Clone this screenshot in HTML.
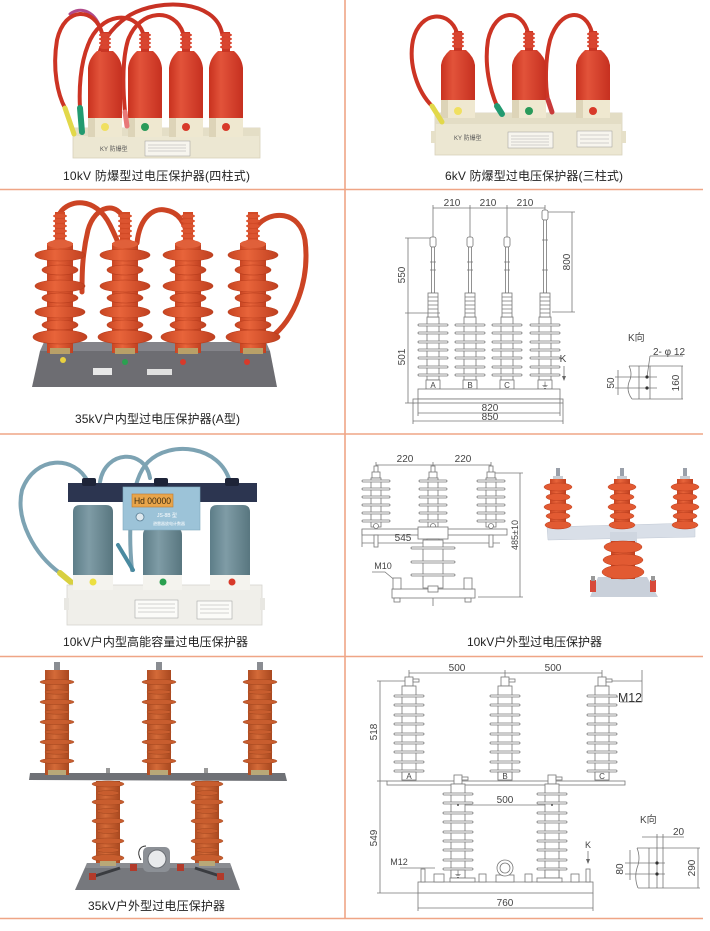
<!DOCTYPE html>
<html><head><meta charset="utf-8">
<style>
html,body{margin:0;padding:0;background:#fff;width:710px;height:931px;overflow:hidden}
svg{display:block}
text{font-family:"Liberation Sans","Noto Sans CJK SC",sans-serif}
.cap{font-size:12px;fill:#222}
.dm{font-size:10px;fill:#444}
.ln{stroke:#777;stroke-width:0.8;fill:none}
.lw{stroke:#777;stroke-width:0.8;fill:#fff}
</style></head><body>
<svg width="710" height="931" viewBox="0 0 710 931" xmlns="http://www.w3.org/2000/svg">
<defs>
<linearGradient id="gbl" x1="0" x2="1" y1="0" y2="0">
<stop offset="0" stop-color="#5d7d88"/><stop offset="0.4" stop-color="#7f9ca6"/><stop offset="1" stop-color="#58767f"/>
</linearGradient>
<linearGradient id="gred" x1="0" x2="1" y1="0" y2="0">
<stop offset="0" stop-color="#c9321f"/><stop offset="0.35" stop-color="#e2533a"/><stop offset="1" stop-color="#c63020"/>
</linearGradient>
<linearGradient id="gor" x1="0" x2="1" y1="0" y2="0">
<stop offset="0" stop-color="#c84522"/><stop offset="0.4" stop-color="#e8643a"/><stop offset="1" stop-color="#c04020"/>
</linearGradient>
<linearGradient id="gbr" x1="0" x2="1" y1="0" y2="0">
<stop offset="0" stop-color="#b14e24"/><stop offset="0.4" stop-color="#d46a38"/><stop offset="1" stop-color="#a9481f"/>
</linearGradient>

<!-- cell1 column -->
<g id="c1">
<rect x="-17" y="114" width="34" height="23" fill="#efe8d0"/>
<rect x="-17" y="114" width="7" height="23" fill="#ddd4b8"/>
<path d="M-17,118 L-17,68 Q-16,58 -8,51 L8,51 Q16,58 17,68 L17,118 Z" fill="url(#gred)"/>
<rect x="-4" y="32" width="8" height="20" fill="#c93624"/>
<g fill="#d94530"><ellipse cx="0" cy="35" rx="6" ry="2"/><ellipse cx="0" cy="39" rx="6" ry="2"/><ellipse cx="0" cy="43" rx="6" ry="2"/><ellipse cx="0" cy="47" rx="6" ry="2"/></g>
</g>
<!-- cell2 column -->
<g id="c2">
<rect x="-17" y="97" width="34" height="21" fill="#efe8d0"/>
<rect x="-17" y="97" width="7" height="21" fill="#ddd4b8"/>
<path d="M-17,100 L-17,65 Q-16,57 -8,50 L8,50 Q16,57 17,65 L17,100 Z" fill="url(#gred)"/>
<rect x="-4" y="31" width="8" height="20" fill="#c93624"/>
<g fill="#d94530"><ellipse cx="0" cy="34" rx="6" ry="2"/><ellipse cx="0" cy="38" rx="6" ry="2"/><ellipse cx="0" cy="42" rx="6" ry="2"/><ellipse cx="0" cy="46" rx="6" ry="2"/></g>
</g>
<!-- cell3 stack -->
<g id="c3">
<rect x="-5" y="212" width="10" height="33" fill="#d24a26"/>
<g fill="#dc5430"><ellipse cx="0" cy="216" rx="7" ry="2"/><ellipse cx="0" cy="221" rx="7" ry="2"/><ellipse cx="0" cy="226" rx="7" ry="2"/><ellipse cx="0" cy="231" rx="7" ry="2"/><ellipse cx="0" cy="236" rx="7" ry="2"/><ellipse cx="0" cy="241" rx="7" ry="2"/></g>
<rect x="-13" y="243" width="26" height="110" fill="url(#gor)"/>
<rect x="-10" y="348" width="20" height="6" fill="#b8a068"/>
<g fill="url(#gor)" stroke="#b73c1c" stroke-width="0.6">
<ellipse cx="0" cy="255" rx="25" ry="6"/><ellipse cx="0" cy="270" rx="18" ry="5"/>
<ellipse cx="0" cy="286" rx="25" ry="6"/><ellipse cx="0" cy="298" rx="18" ry="5"/>
<ellipse cx="0" cy="312" rx="25" ry="6"/><ellipse cx="0" cy="325" rx="18" ry="5"/>
<ellipse cx="0" cy="337" rx="27" ry="7"/>
</g>
<ellipse cx="0" cy="244" rx="13" ry="4" fill="#e0603a"/>
</g>
<!-- cell7 upper stack -->
<g id="c7u">
<rect x="-3" y="662" width="6" height="9" fill="#8a8d92"/>
<rect x="-12" y="670" width="24" height="105" fill="url(#gbr)"/>
<rect x="-9" y="770" width="18" height="5" fill="#b8a878"/>
<g fill="#c85d2e" stroke="#a0461e" stroke-width="0.5">
<ellipse cx="0" cy="682" rx="17" ry="2.6"/><ellipse cx="0" cy="692" rx="12" ry="2.2"/>
<ellipse cx="0" cy="702" rx="17" ry="2.6"/><ellipse cx="0" cy="712" rx="12" ry="2.2"/>
<ellipse cx="0" cy="722" rx="17" ry="2.6"/><ellipse cx="0" cy="732" rx="12" ry="2.2"/>
<ellipse cx="0" cy="742" rx="17" ry="2.6"/><ellipse cx="0" cy="752" rx="12" ry="2.2"/>
<ellipse cx="0" cy="761" rx="17" ry="2.6"/>
</g>
</g>
<!-- cell7 lower stack -->
<g id="c7l">
<rect x="-12" y="781" width="24" height="82" fill="url(#gbr)"/>
<g fill="#c85d2e" stroke="#a0461e" stroke-width="0.5">
<ellipse cx="0" cy="784" rx="16" ry="3"/><ellipse cx="0" cy="793" rx="11" ry="2.5"/>
<ellipse cx="0" cy="802" rx="16" ry="3"/><ellipse cx="0" cy="811" rx="11" ry="2.5"/>
<ellipse cx="0" cy="821" rx="16" ry="3"/><ellipse cx="0" cy="831" rx="11" ry="2.5"/>
<ellipse cx="0" cy="841" rx="16" ry="3"/><ellipse cx="0" cy="850" rx="11" ry="2.5"/>
<ellipse cx="0" cy="858" rx="16" ry="3.5"/>
</g>
<rect x="-8" y="861" width="16" height="5" fill="#b8a878"/>
</g>
<!-- cell4 drawing pole -->
<g id="p4">
<rect x="-6" y="317" width="12" height="63" class="lw"/>
<g class="lw">
<rect x="-15" y="324" width="30" height="2" rx="1"/><rect x="-15" y="332" width="30" height="2" rx="1"/>
<rect x="-15" y="341" width="30" height="2" rx="1"/><rect x="-15" y="349" width="30" height="2" rx="1"/>
<rect x="-15" y="357" width="30" height="2" rx="1"/><rect x="-15" y="366" width="30" height="2" rx="1"/>
<rect x="-15" y="374" width="30" height="2" rx="1"/>
</g>
<rect x="-5" y="293" width="10" height="24" class="lw"/>
<path d="M-5,297h10M-5,301h10M-5,305h10M-5,309h10M-5,313h10" class="ln"/>
<rect x="-7" y="380" width="14" height="9" class="lw"/>
</g>
<!-- cell6 drawing arrester -->
<g id="p6">
<rect x="-2" y="466" width="4" height="7" class="lw"/>
<rect x="-4" y="472" width="8" height="6" class="lw"/>
<rect x="-5" y="478" width="10" height="49" class="lw"/>
<g class="lw">
<rect x="-14" y="480" width="28" height="2" rx="1"/><rect x="-14" y="488" width="28" height="2" rx="1"/>
<rect x="-14" y="496" width="28" height="2" rx="1"/><rect x="-14" y="504" width="28" height="2" rx="1"/>
<rect x="-14" y="512" width="28" height="2" rx="1"/><rect x="-14" y="520" width="28" height="2" rx="1"/>
</g>
<circle cx="0" cy="526" r="2.5" class="lw"/>
<rect x="-2" y="535" width="4" height="12" class="lw"/>
</g>
<!-- cell6 photo arrester -->
<g id="ph6">
<rect x="-2" y="468" width="4" height="9" fill="#9aa0aa"/>
<rect x="-5" y="476" width="10" height="4" fill="#c9ccd2"/>
<rect x="-8" y="479" width="16" height="48" fill="url(#gor)"/>
<g fill="#e25a32" stroke="#b83c1c" stroke-width="0.5">
<ellipse cx="0" cy="487" rx="14" ry="4"/><ellipse cx="0" cy="497" rx="12" ry="3.5"/>
<ellipse cx="0" cy="507" rx="14" ry="4"/><ellipse cx="0" cy="516" rx="12" ry="3.5"/>
<ellipse cx="0" cy="525" rx="13" ry="4"/>
</g>
</g>
<!-- cell8 pole -->
<g id="p8">
<rect x="-4" y="677" width="8" height="9" class="lw"/>
<rect x="4" y="679" width="6" height="3" class="lw"/>
<rect x="-7" y="686" width="14" height="94" class="lw"/>
<g class="lw">
<rect x="-15" y="695" width="30" height="2" rx="1"/><rect x="-15" y="704" width="30" height="2" rx="1"/>
<rect x="-15" y="714" width="30" height="2" rx="1"/><rect x="-15" y="723" width="30" height="2" rx="1"/>
<rect x="-15" y="733" width="30" height="2" rx="1"/><rect x="-15" y="742" width="30" height="2" rx="1"/>
<rect x="-15" y="751" width="30" height="2" rx="1"/><rect x="-15" y="761" width="30" height="2" rx="1"/>
<rect x="-15" y="770" width="30" height="2" rx="1"/>
</g>
<rect x="-7" y="772" width="14" height="8" class="lw"/>
</g>
</defs>

<!-- grid lines -->
<g stroke="#efa586" stroke-width="1.6">
<line x1="345" y1="0" x2="345" y2="919"/>
<line x1="0" y1="189.5" x2="703" y2="189.5"/>
<line x1="0" y1="434" x2="703" y2="434"/>
<line x1="0" y1="656.5" x2="703" y2="656.5"/>
<line x1="0" y1="918.5" x2="703" y2="918.5"/>
</g>

<!-- ===== Cell 1 ===== -->
<g fill="none" stroke-linecap="round">
<path d="M222,33 C215,0 160,-2 130,15 C110,28 100,45 97,62" stroke="#c83224" stroke-width="4"/>
<path d="M102,33 C96,10 80,6 70,14" stroke="#b04a8a" stroke-width="3"/>
<path d="M102,33 C95,8 65,5 57,40 C52,70 58,95 65,108" stroke="#cc3424" stroke-width="4"/>
<path d="M143,33 C135,10 100,12 88,45 C80,65 79,90 80,108" stroke="#cc3424" stroke-width="4"/>
<path d="M183,33 C175,8 140,8 128,40 C122,60 123,90 125,112" stroke="#cc3424" stroke-width="4"/>
</g>
<rect x="73" y="128" width="187" height="30" fill="#ece7d2" stroke="#d8d2bb" stroke-width="0.8"/>
<rect x="73" y="128" width="187" height="8" fill="#e4dec6"/>
<use href="#c1" x="105"/><use href="#c1" x="145"/><use href="#c1" x="186"/><use href="#c1" x="226"/>
<g stroke-linecap="round" fill="none">
<path d="M65,108 L74,134" stroke="#e2d84a" stroke-width="5"/>
<path d="M80,108 L82,132" stroke="#229a70" stroke-width="6"/>
<path d="M125,112 L127,126" stroke="#e87878" stroke-width="5"/>
</g>
<circle cx="105" cy="127" r="4" fill="#f0e060"/><circle cx="145" cy="127" r="4" fill="#2a9a5a"/>
<circle cx="186" cy="127" r="4" fill="#d83a2a"/><circle cx="226" cy="127" r="4" fill="#d83a2a"/>
<text x="100" y="151" font-size="6" fill="#555" font-family="Liberation Serif,serif">KY 防爆型</text>
<rect x="145" y="141" width="45" height="15" fill="#f7f5ee" stroke="#999" stroke-width="0.5"/>
<path d="M148,145h38M148,148h38M148,151h38" stroke="#aaa" stroke-width="0.5"/>
<text x="63" y="180" class="cap" textLength="187" lengthAdjust="spacing">10kV 防爆型过电压保护器(四柱式)</text>

<!-- ===== Cell 2 ===== -->
<g fill="none" stroke-linecap="round">
<path d="M457,33 C450,10 420,10 413,40 C408,65 418,92 432,106" stroke="#cc3424" stroke-width="4"/>
<path d="M528,33 C522,8 495,8 488,40 C484,65 490,90 497,106" stroke="#cc3424" stroke-width="4"/>
<path d="M592,33 C586,8 560,8 550,40 C545,60 545,85 548,100" stroke="#cc3424" stroke-width="4"/>
</g>
<rect x="435" y="113" width="187" height="42" fill="#ece7d2" stroke="#d8d2bb" stroke-width="0.8"/>
<rect x="435" y="113" width="187" height="11" fill="#e3ddc5"/>
<rect x="431" y="131" width="5" height="12" fill="#e6e0c8"/><rect x="621" y="131" width="5" height="12" fill="#e6e0c8"/>
<use href="#c2" x="458"/><use href="#c2" x="529"/><use href="#c2" x="593"/>
<g stroke-linecap="round" fill="none">
<path d="M432,106 L442,122" stroke="#e2d84a" stroke-width="5"/>
<path d="M497,106 L502,114" stroke="#229a70" stroke-width="6"/>
<path d="M548,100 L552,112" stroke="#c83a3a" stroke-width="5"/>
</g>
<circle cx="458" cy="111" r="4" fill="#f0e060"/><circle cx="529" cy="111" r="4" fill="#2a9a5a"/><circle cx="593" cy="111" r="4" fill="#d83a2a"/>
<text x="454" y="140" font-size="6" fill="#555" font-family="Liberation Serif,serif">KY 防爆型</text>
<rect x="508" y="132" width="45" height="16" fill="#f7f5ee" stroke="#999" stroke-width="0.5"/>
<path d="M511,136h38M511,139h38M511,142h38M511,145h38" stroke="#aaa" stroke-width="0.5"/>
<rect x="577" y="131" width="35" height="16" fill="#f7f5ee" stroke="#999" stroke-width="0.5"/>
<path d="M580,135h29M580,139h29M580,143h29" stroke="#aaa" stroke-width="0.5"/>
<text x="445" y="180" class="cap" textLength="178" lengthAdjust="spacing">6kV 防爆型过电压保护器(三柱式)</text>

<!-- ===== Cell 3 ===== -->
<g fill="none" stroke="#cc4424" stroke-width="5" stroke-linecap="round">
<path d="M60,213 C68,200 95,195 110,225 C115,235 118,242 120,248"/>
<path d="M125,222 C118,200 95,205 88,230 C82,255 82,275 82,292"/>
<path d="M137,243 C140,215 155,208 165,210 C180,212 186,225 188,240"/>
<path d="M257,226 C270,210 300,210 305,240 C310,280 295,320 270,338"/>
</g>
<polygon points="44,342 266,342 270,351 40,351" fill="#84848a"/>
<polygon points="40,351 270,351 277,387 32,387" fill="#6d6d72"/>
<use href="#c3" x="60"/><use href="#c3" x="125"/><use href="#c3" x="188"/><use href="#c3" x="253"/>
<circle cx="63" cy="360" r="3" fill="#e8d040"/><circle cx="125" cy="362" r="3" fill="#2aa050"/>
<circle cx="183" cy="362" r="3" fill="#d83a2a"/><circle cx="247" cy="362" r="3" fill="#d83a2a"/>
<rect x="93" y="368" width="19" height="7" fill="#e8e8e8"/><rect x="147" y="369" width="25" height="6" fill="#e0e0e0"/>
<text x="75" y="423" class="cap" textLength="165" lengthAdjust="spacing">35kV户内型过电压保护器(A型)</text>

<!-- ===== Cell 4 (drawing) ===== -->
<g class="ln">
<!-- top dim -->
<line x1="433" y1="208" x2="545" y2="208"/>
<line x1="433" y1="205" x2="433" y2="237"/><line x1="470" y1="205" x2="470" y2="237"/>
<line x1="507" y1="205" x2="507" y2="237"/><line x1="545" y1="205" x2="545" y2="212"/>
<!-- 550 / 501 -->
<line x1="408" y1="238" x2="408" y2="403"/>
<line x1="405" y1="238" x2="430" y2="238"/>
<line x1="405" y1="313" x2="440" y2="313"/>
<line x1="405" y1="403" x2="415" y2="403"/>
<!-- 800 -->
<line x1="572" y1="212" x2="572" y2="312"/>
<line x1="548" y1="212" x2="575" y2="212"/>
<line x1="552" y1="312" x2="575" y2="312"/>
</g>
<g>
<!-- rods -->
<g class="lw">
<rect x="430" y="237" width="6" height="10" rx="2"/><rect x="431.5" y="247" width="3" height="46"/>
<rect x="467" y="237" width="6" height="10" rx="2"/><rect x="468.5" y="247" width="3" height="46"/>
<rect x="504" y="237" width="6" height="10" rx="2"/><rect x="505.5" y="247" width="3" height="46"/>
<rect x="542" y="210" width="6" height="10" rx="2"/><rect x="543.5" y="220" width="3" height="73"/>
</g>
<path d="M430,262h6M430,270h6M467,262h6M467,270h6M504,262h6M504,270h6M542,240h6M542,270h6" class="ln"/>
<use href="#p4" x="433"/><use href="#p4" x="470"/><use href="#p4" x="507"/><use href="#p4" x="545"/>
</g>
<g font-size="8" fill="#444" text-anchor="middle">
<text x="433" y="388">A</text><text x="470" y="388">B</text><text x="507" y="388">C</text><text x="545" y="388">⏚</text>
</g>
<rect x="418" y="389" width="142" height="10" class="lw"/>
<rect x="413" y="399" width="150" height="4" class="lw"/>
<g class="ln">
<line x1="413" y1="403" x2="413" y2="424"/><line x1="563" y1="403" x2="563" y2="424"/>
<line x1="418" y1="399" x2="418" y2="416"/><line x1="560" y1="399" x2="560" y2="416"/>
<line x1="418" y1="413" x2="560" y2="413"/>
<line x1="413" y1="421" x2="563" y2="421"/>
<line x1="564" y1="366" x2="564" y2="380"/>
</g>
<path d="M562,376 L564,381 L566,376Z" fill="#666"/>
<g class="dm" text-anchor="middle">
<text x="452" y="206">210</text><text x="488" y="206">210</text><text x="525" y="206">210</text>
<text x="490" y="411">820</text><text x="490" y="420">850</text>
<text x="563" y="362">K</text>
<text transform="translate(405,275) rotate(-90)">550</text>
<text transform="translate(405,357) rotate(-90)">501</text>
<text transform="translate(570,262) rotate(-90)">800</text>
</g>
<!-- K detail cell4 -->
<text x="628" y="341" class="dm" font-size="9">K向</text>
<text x="653" y="355" class="dm" font-size="9">2- φ 12</text>
<g class="ln">
<path d="M650,356 L683,356"/><path d="M647,377 L650,356"/>
<path d="M629,366 L683,366 M632,399 L683,399"/>
<path d="M629,366 Q633,374 629,382 Q626,391 632,399"/>
<path d="M639,366 V399 M650,366 V399"/>
<path d="M615,377 H657 M615,388 H657"/>
<path d="M618,370 V395"/>
<path d="M682,366 V399"/>
</g>
<circle cx="647" cy="377" r="1.6" fill="#333"/><circle cx="647" cy="388" r="1.6" fill="#333"/>
<g class="dm" font-size="9" text-anchor="middle">
<text transform="translate(614,383) rotate(-90)">50</text>
<text transform="translate(679,383) rotate(-90)">160</text>
</g>

<!-- ===== Cell 5 ===== -->
<g fill="none" stroke="#7da3b3" stroke-width="4" stroke-linecap="round">
<path d="M88,482 C75,455 35,455 22,490 C15,520 35,555 60,573"/>
<path d="M100,482 C105,450 145,448 150,478"/>
<path d="M230,482 C220,445 170,440 148,462 C130,480 128,530 132,570"/>
<path d="M118,545 L133,570" stroke="#4a8aa0"/>
</g>
<path d="M60,573 L72,583" stroke="#d8d040" stroke-width="6" stroke-linecap="round"/>
<rect x="67" y="585" width="195" height="40" fill="#f0efea" stroke="#d6d5cf" stroke-width="0.8"/>
<rect x="64" y="598" width="5" height="12" fill="#e8e7e2"/><rect x="260" y="598" width="5" height="12" fill="#e8e7e2"/>
<rect x="73" y="570" width="40" height="20" fill="#f4f3ee"/><rect x="143" y="570" width="39" height="20" fill="#f4f3ee"/><rect x="210" y="570" width="40" height="20" fill="#f4f3ee"/>
<path d="M73,575 L73,512 Q73,505 80,505 L106,505 Q113,505 113,512 L113,575Z" fill="url(#gbl)"/>
<path d="M143,575 L143,535 Q143,528 150,528 L175,528 Q182,528 182,535 L182,575Z" fill="url(#gbl)"/>
<path d="M210,575 L210,512 Q210,505 217,505 L243,505 Q250,505 250,512 L250,575Z" fill="url(#gbl)"/>
<rect x="68" y="483" width="189" height="19" fill="#2c3550"/>
<rect x="82" y="478" width="14" height="8" rx="2" fill="#1e2438"/>
<rect x="154" y="478" width="14" height="8" rx="2" fill="#1e2438"/>
<rect x="225" y="478" width="14" height="8" rx="2" fill="#1e2438"/>
<rect x="123" y="487" width="77" height="43" fill="#9cc3d8" stroke="#7fa8bd" stroke-width="0.6"/>
<rect x="132" y="494" width="41" height="13" fill="#e9a54a" stroke="#c07a30" stroke-width="0.6"/>
<text x="134" y="504" font-size="9" fill="#3a2a10" font-family="Liberation Mono,monospace" textLength="37" lengthAdjust="spacingAndGlyphs">Hd 00000</text>
<text x="157" y="517" font-size="5" fill="#fff">JS-8B 型</text>
<text x="153" y="525" font-size="4" fill="#fff">避雷器放电计数器</text>
<circle cx="140" cy="517" r="4" fill="#dfe9ef" stroke="#5a7f95" stroke-width="0.8"/>
<circle cx="93" cy="582" r="3.5" fill="#ecdf40"/><circle cx="163" cy="582" r="3.5" fill="#2aa050"/><circle cx="232" cy="582" r="3.5" fill="#d83a2a"/>
<rect x="135" y="600" width="43" height="18" fill="#fbfbf8" stroke="#999" stroke-width="0.5"/>
<path d="M138,604h37M138,608h37M138,612h37" stroke="#aaa" stroke-width="0.5"/>
<rect x="197" y="601" width="35" height="18" fill="#fbfbf8" stroke="#999" stroke-width="0.5"/>
<path d="M200,605h29M200,609h29M200,613h29" stroke="#aaa" stroke-width="0.5"/>
<text x="63" y="646" class="cap" textLength="185" lengthAdjust="spacing">10kV户内型高能容量过电压保护器</text>

<!-- ===== Cell 6 ===== -->
<!-- drawing -->
<g class="ln">
<line x1="376" y1="465" x2="491" y2="465"/>
<line x1="376" y1="462" x2="376" y2="468"/><line x1="433" y1="462" x2="433" y2="468"/><line x1="491" y1="462" x2="491" y2="468"/>
<line x1="493" y1="473" x2="523" y2="473"/>
<line x1="478" y1="597" x2="523" y2="597"/>
<line x1="520" y1="473" x2="520" y2="597"/>
<line x1="362" y1="529" x2="362" y2="547"/>
<line x1="362" y1="543" x2="500" y2="543"/>
<path d="M372,572 L385,572 L397,582"/>
</g>
<rect x="362" y="529" width="145" height="6" class="lw"/>
<use href="#p6" x="376"/><use href="#p6" x="433"/><use href="#p6" x="491"/>
<rect x="418" y="527" width="30" height="12" class="lw"/>
<rect x="427" y="539" width="12" height="5" class="lw"/>
<rect x="423" y="540" width="20" height="48" class="lw"/>
<g class="lw">
<rect x="411" y="547" width="44" height="2" rx="1"/><rect x="411" y="561" width="44" height="2" rx="1"/><rect x="411" y="574" width="44" height="2" rx="1"/>
</g>
<rect x="392" y="589" width="83" height="9" class="lw"/>
<rect x="393" y="578" width="8" height="11" class="lw"/><rect x="394" y="598" width="6" height="4" class="lw"/>
<rect x="464" y="578" width="8" height="11" class="lw"/><rect x="465" y="598" width="6" height="4" class="lw"/>
<rect x="428" y="586" width="10" height="6" class="lw"/>
<line x1="433" y1="598" x2="433" y2="606" class="ln"/>
<g class="dm" text-anchor="middle">
<text x="405" y="462">220</text><text x="463" y="462">220</text>
<text x="403" y="541">545</text>
<text x="383" y="569" font-size="9">M10</text>
<text transform="translate(518,535) rotate(-90)" font-size="9">485±10</text>
</g>
<!-- photo -->
<polygon points="547,527 695,523 695,537 548,540" fill="#d9dfe8" stroke="#c0c8d4" stroke-width="0.5"/>
<use href="#ph6" x="558"/><use href="#ph6" x="622"/><use href="#ph6" x="685"/>
<rect x="610" y="532" width="27" height="11" fill="#cfd6e0"/>
<polygon points="598,577 647,577 658,597 590,597" fill="#c9d0da"/>
<rect x="611" y="541" width="24" height="38" fill="url(#gor)"/>
<g fill="#e25a32" stroke="#b83c1c" stroke-width="0.5">
<ellipse cx="623" cy="547" rx="19" ry="6"/><ellipse cx="623" cy="560" rx="20" ry="6"/><ellipse cx="623" cy="572" rx="21" ry="7"/>
</g>
<rect x="590" y="580" width="6" height="12" fill="#d84a3a"/><rect x="591" y="576" width="4" height="5" fill="#999"/>
<rect x="650" y="580" width="6" height="12" fill="#d84a3a"/><rect x="651" y="576" width="4" height="5" fill="#999"/>
<text x="467" y="646" class="cap" textLength="135" lengthAdjust="spacing">10kV户外型过电压保护器</text>

<!-- ===== Cell 7 ===== -->
<polygon points="30,773 285,773 287,781 29,780" fill="#6f7176"/>
<rect x="106" y="768" width="4" height="5" fill="#999"/><rect x="204" y="768" width="4" height="5" fill="#999"/>
<use href="#c7u" x="57"/><use href="#c7u" x="159"/><use href="#c7u" x="260"/>
<polygon points="87,863 230,863 240,890 75,890" fill="#76787d"/>
<polygon points="87,863 230,863 232,868 85,868" fill="#8a8c91"/>
<path d="M95,876 L120,868 M220,876 L195,868" stroke="#3a3c40" stroke-width="3"/>
<use href="#c7l" x="108"/><use href="#c7l" x="207"/>
<rect x="89" y="873" width="7" height="7" fill="#b23a2a"/><rect x="130" y="864" width="7" height="7" fill="#b23a2a"/>
<rect x="177" y="864" width="7" height="7" fill="#b23a2a"/><rect x="217" y="873" width="7" height="7" fill="#b23a2a"/>
<rect x="143" y="847" width="27" height="25" rx="5" fill="#8c9096"/>
<circle cx="157" cy="859" r="9" fill="#e8eaec" stroke="#6a6e74" stroke-width="1"/>
<path d="M141,860 C136,852 140,846 146,846" stroke="#333" stroke-width="1" fill="none"/>
<text x="88" y="910" class="cap" textLength="137" lengthAdjust="spacing">35kV户外型过电压保护器</text>

<!-- ===== Cell 8 (drawing) ===== -->
<g class="ln">
<line x1="409" y1="673" x2="602" y2="673"/>
<line x1="409" y1="670" x2="409" y2="677"/><line x1="505" y1="670" x2="505" y2="677"/><line x1="602" y1="670" x2="602" y2="677"/>
<line x1="380" y1="681" x2="380" y2="893"/>
<line x1="377" y1="681" x2="405" y2="681"/>
<line x1="377" y1="781" x2="387" y2="781"/>
<line x1="377" y1="893" x2="418" y2="893"/>
<line x1="610" y1="681" x2="642" y2="681"/>
<line x1="642" y1="670" x2="642" y2="702"/>
<line x1="620" y1="702" x2="642" y2="702"/>
<line x1="608" y1="697" x2="618" y2="697"/>
<line x1="458" y1="805" x2="552" y2="805"/>
<line x1="418" y1="893" x2="418" y2="911"/><line x1="593" y1="893" x2="593" y2="911"/>
<line x1="418" y1="908" x2="593" y2="908"/>
<line x1="400" y1="868" x2="435" y2="868"/>
<line x1="588" y1="851" x2="588" y2="863"/>
</g>
<path d="M586,859 L588,864 L590,859Z" fill="#666"/>
<rect x="387" y="781" width="238" height="4" class="lw"/>
<use href="#p8" x="409"/><use href="#p8" x="505"/><use href="#p8" x="602"/>
<use href="#p8" x="458" y="98"/><use href="#p8" x="552" y="98"/>
<circle cx="458" cy="805" r="1" fill="#555"/><circle cx="552" cy="805" r="1" fill="#555"/>
<rect x="418" y="882" width="175" height="11" class="lw"/>
<g class="lw">
<rect x="434" y="874" width="10" height="8"/><rect x="479" y="874" width="7" height="8"/>
<rect x="525" y="874" width="7" height="8"/><rect x="571" y="874" width="8" height="8"/>
<rect x="450" y="878" width="25" height="4"/><rect x="537" y="878" width="25" height="4"/>
<rect x="421" y="869" width="4" height="13"/><rect x="586" y="869" width="4" height="13"/>
<rect x="496" y="875" width="18" height="7"/>
</g>
<circle cx="505" cy="868" r="8" class="lw"/><circle cx="505" cy="868" r="5" class="ln"/>
<g font-size="8" fill="#444" text-anchor="middle">
<text x="409" y="779">A</text><text x="505" y="779">B</text><text x="602" y="779">C</text><text x="458" y="877">⏚</text>
</g>
<g class="dm" text-anchor="middle">
<text x="457" y="671">500</text><text x="553" y="671">500</text>
<text x="505" y="803">500</text>
<text x="505" y="906">760</text>
<text x="399" y="865" font-size="9">M12</text>
<text x="588" y="848" font-size="9">K</text>
<text transform="translate(377,732) rotate(-90)">518</text>
<text transform="translate(377,838) rotate(-90)">549</text>
</g>
<text x="618" y="702" font-size="13" fill="#333" textLength="24" lengthAdjust="spacingAndGlyphs">M12</text>
<!-- K detail cell8 -->
<text x="640" y="823" class="dm" font-size="9">K向</text>
<text x="673" y="835" class="dm" font-size="9">20</text>
<g class="ln">
<path d="M642,837 H684"/>
<path d="M657,834 V888 M663,834 V888"/>
<path d="M637,848 H700 M638,888 H700"/>
<path d="M637,848 Q641,858 637,868 Q634,878 638,888"/>
<path d="M649,848 V888"/>
<path d="M625,863 H665 M625,874 H665"/>
<path d="M630,850 V880"/>
<path d="M698,848 V888"/>
</g>
<circle cx="657" cy="863" r="1.6" fill="#333"/><circle cx="657" cy="874" r="1.6" fill="#333"/>
<g class="dm" font-size="9" text-anchor="middle">
<text transform="translate(623,869) rotate(-90)">80</text>
<text transform="translate(695,868) rotate(-90)">290</text>
</g>
</svg>
</body></html>
